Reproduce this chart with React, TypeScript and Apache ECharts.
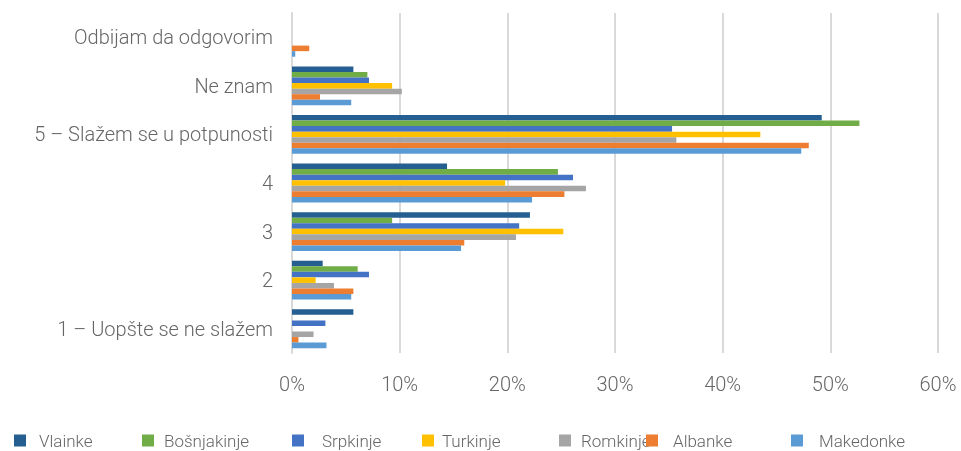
import React, { useEffect, useRef } from "react";
import * as echarts from "echarts";

const categories = [
  "1 – Uopšte se ne slažem",
  "2",
  "3",
  "4",
  "5 – Slažem se u potpunosti",
  "Ne znam",
  "Odbijam da odgovorim",
];

const vlainke = [5.7, 2.85, 22.1, 14.4, 49.2, 5.7, 0];
const bosnjakinje = [0, 6.1, 9.3, 24.7, 52.7, 7.0, 0];
const srpkinje = [3.1, 7.15, 21.1, 26.1, 35.3, 7.15, 0];
const turkinje = [0, 2.2, 25.2, 19.8, 43.5, 9.3, 0];
const romkinje = [2.0, 3.9, 20.8, 27.3, 35.7, 10.2, 0];
const albanke = [0.6, 5.7, 16.0, 25.3, 48.0, 2.6, 1.6];
const makedonke = [3.2, 5.5, 15.7, 22.3, 47.3, 5.5, 0.3];

const seriesDefs = [
  { name: "Vlainke", data: vlainke, color: "#255E91" },
  { name: "Bošnjakinje", data: bosnjakinje, color: "#70AD47" },
  { name: "Srpkinje", data: srpkinje, color: "#4472C4" },
  { name: "Turkinje", data: turkinje, color: "#FFC000" },
  { name: "Romkinje", data: romkinje, color: "#A5A5A5" },
  { name: "Albanke", data: albanke, color: "#ED7D31" },
  { name: "Makedonke", data: makedonke, color: "#5B9BD5" },
];

const legendItems = [
  { name: "Vlainke", left: 9, pad: 8 },
  { name: "Bošnjakinje", left: 137, pad: 5 },
  { name: "Srpkinje", left: 287, pad: 13 },
  { name: "Turkinje", left: 417, pad: 3 },
  { name: "Romkinje", left: 554, pad: 5 },
  { name: "Albanke", left: 641, pad: 10 },
  { name: "Makedonke", left: 786, pad: 11 },
];

const FONT = "Roboto";
const TEXT_COLOR = "#666666";

export default function App() {
  const ref = useRef<HTMLDivElement>(null);
  useEffect(() => {
    if (!ref.current) return;
    const chart = echarts.init(ref.current, null, { renderer: "svg" });
    chart.setOption({
      animation: false,
      grid: { left: 292, right: 23, top: 13, bottom: 98, containLabel: false },
      xAxis: {
        type: "value",
        min: 0,
        max: 60,
        interval: 10,
        axisLabel: {
          formatter: "{value}%",
          fontFamily: FONT,
          fontWeight: 300,
          fontSize: 20,
          color: TEXT_COLOR,
          margin: 21,
        },
        axisLine: { show: false },
        axisTick: { show: false },
        splitLine: { lineStyle: { color: "#D9D9D9", width: 2 } },
      },
      yAxis: {
        type: "category",
        data: categories,
        axisLabel: {
          fontFamily: FONT,
          fontWeight: 300,
          fontSize: 20,
          color: TEXT_COLOR,
          margin: 19,
        },
        axisLine: { lineStyle: { color: "#D9D9D9", width: 2 } },
        axisTick: { show: false },
      },
      legend: legendItems.map((l) => ({
        data: [l.name],
        left: l.left,
        top: 427,
        padding: 5,
        itemWidth: 12,
        itemHeight: 12,
        icon: "rect",
        textStyle: {
          fontFamily: FONT,
          fontWeight: 300,
          fontSize: 17,
          color: TEXT_COLOR,
          padding: [0, 0, 0, l.pad],
        },
      })),
      series: seriesDefs.map((s) => ({
        type: "bar",
        name: s.name,
        data: s.data,
        itemStyle: { color: s.color },
        barGap: "0%",
        barCategoryGap: "20%",
      })),
    });
    return () => chart.dispose();
  }, []);
  return (
    <div
      ref={ref}
      style={{ position: "fixed", left: 0, top: 0, width: 961, height: 451 }}
    />
  );
}
